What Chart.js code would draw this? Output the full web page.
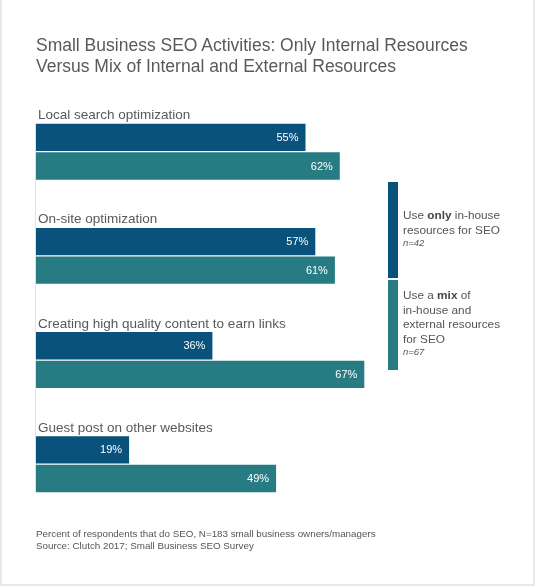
<!DOCTYPE html>
<html>
<head>
<meta charset="utf-8">
<title>Small Business SEO Activities</title>
<script src="https://cdn.jsdelivr.net/npm/chart.js@4/dist/chart.umd.min.js"></script>
<style>
  body { margin: 0; background: #fff; font-family: 'Liberation Sans', Arial, sans-serif; }
  #wrap { position: relative; width: 535px; height: 586px; overflow: hidden; }
  #myChart { position: absolute; left: 0; top: 0; }
  #frame { position: absolute; left: 0; top: 0; width: 535px; height: 586px; box-sizing: border-box;
    border-left: 2px solid #e8e8e8; border-right: 2px solid #e8e8e8; border-bottom: 2px solid #e8e8e8; pointer-events: none; }
  #title { position: absolute; left: 36px; top: 34.6px; font-size: 17.5px; line-height: 21.5px; color: #595959; white-space: nowrap; }
  .key { position: absolute; left: 388px; width: 10px; }
  .key-text { position: absolute; left: 403px; font-size: 11.8px; line-height: 14.5px; color: #555; white-space: nowrap; }
  .key-text b { color: #444; }
  .key-text i { display: block; font-size: 9.5px; line-height: 12px; }
  #footer { position: absolute; left: 36px; top: 528.2px; font-size: 9.8px; line-height: 11.5px; color: #555; white-space: nowrap; }
</style>
</head>
<body>
<div id="wrap">
  <canvas id="myChart" width="535" height="586"></canvas>
  <div id="title">Small Business SEO Activities: Only Internal Resources<br>Versus Mix of Internal and External Resources</div>
  <div class="key" id="key-one" style="top:182px;height:96px;"></div>
  <div class="key" id="key-two" style="top:279.5px;height:90.5px;"></div>
  <div class="key-text" style="top:208.3px;">Use <b>only</b> in-house<br>resources for SEO<i>n=42</i></div>
  <div class="key-text" style="top:288.3px;">Use a <b>mix</b> of<br>in-house and<br>external resources<br>for SEO<i>n=67</i></div>
  <div id="footer">Percent of respondents that do SEO, N=183 small business owners/managers<br>Source: Clutch 2017; Small Business SEO Survey</div>
  <div id="frame"></div>
</div>
<script>
'use strict';

// ******** GLOBAL VARIABLES **********

let categories = ['Local search optimization', 'On-site optimization', 'Creating high quality content to earn links', 'Guest post on other websites'];
let seriesNames = ['Use only in-house resources for SEO', 'Use a mix of in-house and external resources for SEO'];
let inHouseValues = [55, 57, 36, 19];
let mixValues = [62, 61, 67, 49];
let seriesColors = ['#08527c', '#277b83'];

// ********** DOM REFERENCES ***********

document.getElementById('key-one').style.background = seriesColors[0];
document.getElementById('key-two').style.background = seriesColors[1];

let ctx = document.getElementById('myChart').getContext('2d');

// ********** LABEL PLUGIN ***********

let labelPlugin = {
  id: 'labelPlugin',
  afterDatasetsDraw(chart) {
    let c = chart.ctx;
    let first = chart.getDatasetMeta(0).data;
    let second = chart.getDatasetMeta(1).data;
    c.save();

    // thin axis line on the left
    let topY = first[0].y - first[0].height / 2;
    let last = second[second.length - 1];
    let bottomY = last.y + last.height / 2;
    c.strokeStyle = '#e2e2e2';
    c.lineWidth = 1;
    c.beginPath();
    c.moveTo(chart.chartArea.left - 0.5, topY);
    c.lineTo(chart.chartArea.left - 0.5, bottomY);
    c.stroke();

    // category names above each pair
    c.font = '13.5px "Liberation Sans", Arial, sans-serif';
    c.fillStyle = '#595959';
    c.textAlign = 'left';
    c.textBaseline = 'alphabetic';
    for (let i = 0; i < categories.length; i++) {
      c.fillText(categories[i], 38, first[i].y - first[i].height / 2 - 4.5);
    }

    // percentages inside the bars
    c.font = '11px "Liberation Sans", Arial, sans-serif';
    c.fillStyle = '#ffffff';
    c.textAlign = 'right';
    c.textBaseline = 'middle';
    chart.data.datasets.forEach(function (ds, d) {
      chart.getDatasetMeta(d).data.forEach(function (bar, i) {
        c.fillText(ds.data[i] + '%', bar.x - 7, bar.y + 0.5);
      });
    });
    c.restore();
  }
};

// ********** CHART *************

let myChartObj = {
  type: 'bar',
  data: {
    labels: categories,
    datasets: [{
      label: seriesNames[0],
      data: inHouseValues,
      backgroundColor: seriesColors[0],
      borderWidth: 0,
      categoryPercentage: 0.549,
      barPercentage: 0.955
    },
    {
      label: seriesNames[1],
      data: mixValues,
      backgroundColor: seriesColors[1],
      borderWidth: 0,
      categoryPercentage: 0.549,
      barPercentage: 0.955
    }]
  },
  options: {
    indexAxis: 'y',
    responsive: false,
    animation: false,
    layout: {
      padding: { top: 99.6, bottom: 69.7, left: 36, right: 9 }
    },
    plugins: {
      legend: { display: false },
      tooltip: { enabled: false }
    },
    scales: {
      x: { min: 0, max: 100, display: false },
      y: { display: false }
    }
  },
  plugins: [labelPlugin]
};

new Chart(ctx, myChartObj);
</script>
</body>
</html>
